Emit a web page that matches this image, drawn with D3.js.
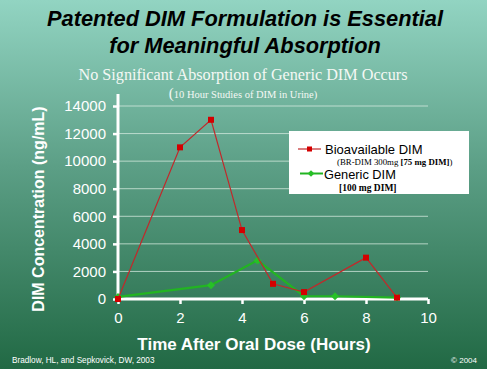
<!DOCTYPE html>
<html><head><meta charset="utf-8">
<script src="https://cdn.jsdelivr.net/npm/d3@7"></script>
<style>body{margin:0;padding:0;overflow:hidden}svg{display:block}</style>
</head><body>
<script>
const bioHours = [0, 2, 3, 4, 5, 6, 8, 9];
const bioValues = [0, 11000, 13000, 5000, 1100, 500, 3000, 100];
const genHours = [0, 3, 4.5, 6, 7, 9];
const genValues = [150, 1000, 2800, 200, 200, 100];
const xTicks = [0, 2, 4, 6, 8, 10];
const yTicks = [0, 2000, 4000, 6000, 8000, 10000, 12000, 14000];

const W = 487, H = 369;
const svg = d3.select("body").append("svg").attr("width", W).attr("height", H);
const defs = svg.append("defs");
const g = defs.append("linearGradient").attr("id","bg").attr("x1",0).attr("y1",0).attr("x2",0).attr("y2",1);
g.append("stop").attr("offset",0).attr("stop-color","#92d4c2");
g.append("stop").attr("offset",0.45).attr("stop-color","#5c9f86");
g.append("stop").attr("offset",1).attr("stop-color","#216944");
svg.append("rect").attr("width",W).attr("height",H).attr("fill","url(#bg)");

// titles
const title = svg.append("text").attr("text-anchor","middle").attr("font-family","Liberation Sans, Arial, sans-serif")
  .attr("font-weight","bold").attr("font-style","italic").attr("font-size",21.8).attr("fill","#000");
title.append("tspan").attr("x",245).attr("y",26).text("Patented DIM Formulation is Essential");
title.append("tspan").attr("x",245).attr("y",53).text("for Meaningful Absorption");
svg.append("text").attr("x",243).attr("y",80).attr("text-anchor","middle").attr("font-family","Liberation Serif, Times New Roman, serif")
  .attr("font-size",16.2).attr("fill","#f4f8f4").text("No Significant Absorption of Generic DIM Occurs");
const sub2 = svg.append("text").attr("x",243).attr("y",98).attr("text-anchor","middle").attr("font-family","Liberation Serif, Times New Roman, serif")
  .attr("fill","#f4f8f4");
sub2.append("tspan").attr("font-size",15).text("(");
sub2.append("tspan").attr("font-size",10.5).text("10 Hour Studies of DIM in Urine)");

// scales
const x = d3.scaleLinear().domain([0,10]).range([118,428]);
const y = d3.scaleLinear().domain([0,14000]).range([299,106]);

// gridlines
svg.append("g").selectAll("line").data(yTicks.filter(d=>d>0)).join("line")
  .attr("x1",x(0)).attr("x2",x(10)).attr("y1",d=>y(d)).attr("y2",d=>y(d))
  .attr("stroke","#d8ece2").attr("stroke-opacity",0.75).attr("stroke-width",1);

// axes
const yAxis = svg.append("g").attr("transform",`translate(${x(0)},0)`)
  .call(d3.axisLeft(y).tickValues(yTicks).tickSize(5).tickPadding(7).tickFormat(d3.format("d")));
const xAxis = svg.append("g").attr("transform",`translate(0,${y(0)})`)
  .call(d3.axisBottom(x).tickValues(xTicks).tickSize(5).tickPadding(8).tickFormat(d3.format("d")));
[yAxis, xAxis].forEach(a=>{
  a.select(".domain").attr("stroke","#fff").attr("stroke-width",3);
  a.selectAll(".tick line").attr("stroke","#fff").attr("stroke-width",2.5);
  a.selectAll("text").attr("fill","#fff").attr("font-family","Liberation Sans, Arial, sans-serif").attr("font-size",15);
});
yAxis.select(".domain").attr("d",`M0,${y(0)}V${y(14000)-12}`);
xAxis.select(".domain").attr("d",`M${x(0)},0H${x(10)}`);

// axis titles
svg.append("text").attr("transform","translate(44,209) rotate(-90)").attr("text-anchor","middle")
  .attr("font-family","Liberation Sans, Arial, sans-serif").attr("font-weight","bold").attr("font-size",16)
  .attr("fill","#fff").text("DIM Concentration (ng/mL)");
svg.append("text").attr("x",254).attr("y",350).attr("text-anchor","middle")
  .attr("font-family","Liberation Sans, Arial, sans-serif").attr("font-weight","bold").attr("font-size",17)
  .attr("fill","#fff").text("Time After Oral Dose (Hours)");

// series
const bio = bioHours.map((h,i)=>[h,bioValues[i]]);
const gen = genHours.map((h,i)=>[h,genValues[i]]);
const line = d3.line().x(d=>x(d[0])).y(d=>y(d[1]));
const diamond = d3.symbol(d3.symbolSquare,32)();
svg.append("path").attr("d",line(gen)).attr("fill","none").attr("stroke","#22b422").attr("stroke-width",2.2);
svg.append("g").selectAll("path").data(gen).join("path")
  .attr("d",diamond).attr("transform",d=>`translate(${x(d[0])},${y(d[1])}) rotate(45)`).attr("fill","#27c027");
svg.append("path").attr("d",line(bio)).attr("fill","none").attr("stroke","#c2282a").attr("stroke-width",1.2);
svg.append("g").selectAll("rect").data(bio).join("rect")
  .attr("x",d=>x(d[0])-3).attr("y",d=>y(d[1])-3).attr("width",6).attr("height",6).attr("fill","#d40000");

// legend
const lg = svg.append("g");
lg.append("rect").attr("x",289).attr("y",131).attr("width",180).attr("height",63).attr("fill","#fff");
lg.append("line").attr("x1",298).attr("x2",321).attr("y1",149).attr("y2",149).attr("stroke","#c2282a").attr("stroke-width",1.2);
lg.append("rect").attr("x",307).attr("y",146.5).attr("width",5).attr("height",5).attr("fill","#d40000");
lg.append("text").attr("x",325).attr("y",154).attr("font-family","Liberation Sans, Arial, sans-serif").attr("font-size",13).attr("fill","#000").text("Bioavailable DIM");
const l2 = lg.append("text").attr("x",337).attr("y",164.5).attr("font-family","Liberation Serif, Times New Roman, serif").attr("font-size",8.8).attr("fill","#000");
l2.append("tspan").text("(BR-DIM 300mg ");
l2.append("tspan").attr("font-weight","bold").text("[75 mg DIM]");
l2.append("tspan").text(")");
lg.append("line").attr("x1",300).attr("x2",323).attr("y1",173.5).attr("y2",173.5).attr("stroke","#22b422").attr("stroke-width",2);
lg.append("path").attr("d",d3.symbol(d3.symbolSquare,22)()).attr("transform","translate(311,173.5) rotate(45)").attr("fill","#27c027");
lg.append("text").attr("x",324).attr("y",179).attr("font-family","Liberation Sans, Arial, sans-serif").attr("font-size",12.8).attr("fill","#000").text("Generic DIM");
lg.append("text").attr("x",339).attr("y",190.5).attr("font-family","Liberation Serif, Times New Roman, serif").attr("font-weight","bold").attr("font-size",9.5).attr("fill","#000").text("[100 mg DIM]");

// footer
svg.append("text").attr("x",12).attr("y",363).attr("font-family","Liberation Sans, Arial, sans-serif").attr("font-size",8.2).attr("fill","#fff").text("Bradlow, HL, and Sepkovick, DW, 2003");
svg.append("text").attr("x",477).attr("y",363).attr("text-anchor","end").attr("font-family","Liberation Sans, Arial, sans-serif").attr("font-size",8).attr("fill","#fff").text("© 2004");
</script>
</body></html>
